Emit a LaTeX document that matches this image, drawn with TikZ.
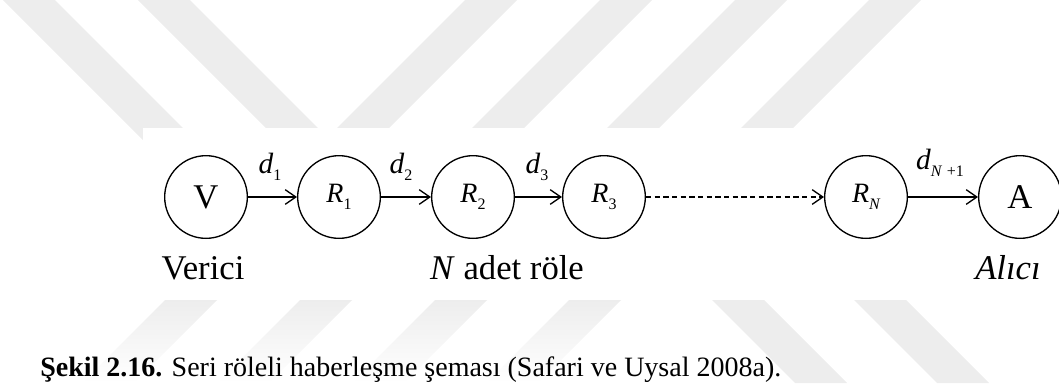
\documentclass[tikz,border=0pt]{standalone}
\usepackage{fontspec}
\setmainfont{Liberation Serif}
\usetikzlibrary{arrows.meta}
\newcommand{\bandW}{52}
\newcommand{\rowY}{197}
\newcommand{\sbs}[1]{\raisebox{-0.5ex}{\fontsize{12}{12}\selectfont\upshape #1}}

\tikzset{
	relay/.style={draw, circle, line width=1pt, minimum size=62pt, inner sep=0pt, font=\fontsize{21}{21}\selectfont\itshape},
	endpt/.style={relay, font=\fontsize{26}{26}\selectfont},
	hop/.style={-{Straight Barb[length=8pt,width=11pt,line width=1pt]}, line width=1pt},
	dist/.style={font=\fontsize{22}{22}\selectfont\itshape, inner sep=0pt},
	role/.style={font=\fontsize{26}{26}\selectfont, inner sep=0pt},
	wm/.style={fill=black!7},
}

\begin{document}
\begin{tikzpicture}[x=0.75pt, y=-0.75pt]
		\useasboundingbox (0,0) rectangle (1059,383);
		% Watermark
		\foreach \c in {3,138}
			\fill[wm] (\c,0) -- (\c+\bandW,0) -- (\c+\bandW+250,250) -- (\c+250,250) -- cycle;
		\foreach \c in {465,600,735,869} {
			\fill[wm] (\c,0) -- (\c+\bandW,0) -- (\c+\bandW-300,300) -- (\c-300,300) -- cycle;
			\shade[top color=black!7, bottom color=white] (\c-300,300) -- (\c+\bandW-300,300) -- (\c+\bandW-383,383) -- (\c-383,383) -- cycle;
		}
		\foreach \c in {412,554}
			\fill[wm] (\c+300,300) -- (\c+\bandW+300,300) -- (\c+\bandW+383,383) -- (\c+383,383) -- cycle;
		\fill[white] (143,128) rectangle (1059,300);
		% Chain
		\node[endpt] (src) at (206,\rowY) {V};
		\node[relay] (r1) at (339,\rowY) {R\sbs{1}};
		\node[relay] (r2) at (473,\rowY) {R\sbs{2}};
		\node[relay] (r3) at (604,\rowY) {R\sbs{3}};
		\node[relay] (rN) at (866,\rowY) {R\sbs{\itshape N}};
		\node[endpt] (dst) at (1020,\rowY) {A};
		\draw[hop] (src) -- (r1);
		\draw[hop] (r1) -- (r2);
		\draw[hop] (r2) -- (r3);
		\draw[hop, dash pattern=on 4pt off 2.5pt] (r3) -- (rN);
		\draw[hop] (rN) -- (dst);
		% Distances
		\node[dist] (d1) at (270,167) {d\sbs{1}};
		\node[dist] (d2) at (401,167) {d\sbs{2}};
		\node[dist] (d3) at (537,167) {d\sbs{3}};
		\node[dist] (dN) at (940,163) {d\sbs{\itshape N\,\,\upshape+1}};
		% Roles
		\node[role] (tx) at (203,268) {Verici};
		\node[role] (relays) at (507,268) {\textit{N} adet röle};
		\node[role] (rx) at (1008,268) {\textit{Alıcı}};
		%
		\node[anchor=base west, inner sep=0pt, font=\fontsize{21}{21}\selectfont] (cap) at (40,376) {\textbf{Şekil 2.16.} Seri röleli haberleşme şeması (Safari ve Uysal 2008a).};
\end{tikzpicture}
\end{document}
